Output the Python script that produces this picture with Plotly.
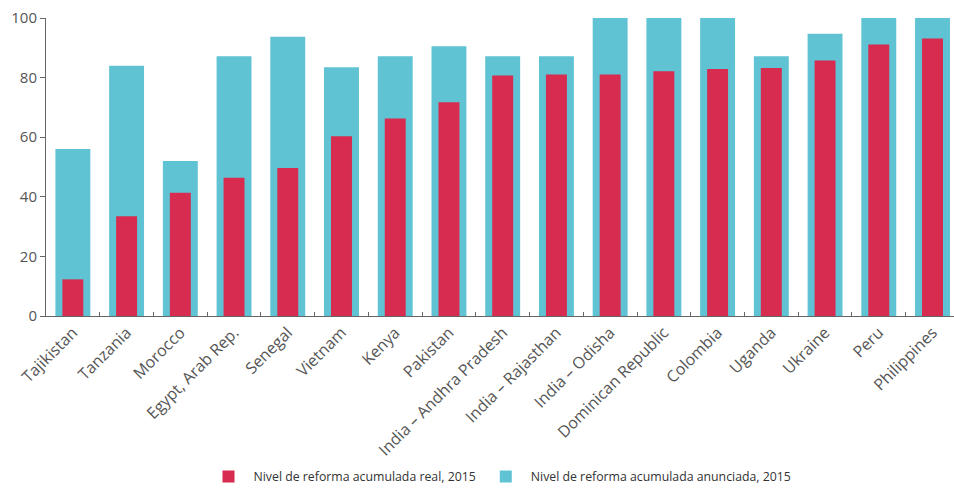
import plotly.graph_objects as go

categories = ["Tajikistan", "Tanzania", "Morocco", "Egypt, Arab Rep.", "Senegal", "Vietnam",
              "Kenya", "Pakistan", "India – Andhra Pradesh", "India – Rajasthan", "India – Odisha",
              "Dominican Republic", "Colombia", "Uganda", "Ukraine", "Peru", "Philippines"]
real_2015 = [12.3, 33.5, 41.4, 46.4, 49.7, 60.3, 66.3, 71.7, 80.7, 81.0, 81.0, 82.1, 82.9, 83.2, 85.7, 91.1, 93.1]
announced_2015 = [56, 84, 52, 87.2, 93.7, 83.5, 87.2, 90.5, 87.2, 87.2, 100, 100, 100, 87.2, 94.7, 100, 100]
y_ticks = [0, 20, 40, 60, 80, 100]

RED = "#D72B50"
BLUE = "#60C3D3"

fig = go.Figure()
fig.add_trace(go.Bar(x=categories, y=announced_2015, width=0.65, marker=dict(color=BLUE, line=dict(width=0)),
                     name="Nivel de reforma acumulada anunciada, 2015"))
fig.add_trace(go.Bar(x=categories, y=real_2015, width=0.39, marker=dict(color=RED, line=dict(width=0)),
                     name="Nivel de reforma acumulada real, 2015"))

fig.update_layout(
    width=954, height=491,
    barmode="overlay",
    paper_bgcolor="white", plot_bgcolor="white",
    margin=dict(l=46, r=0, t=18, b=174),
    font=dict(family="Open Sans, sans-serif", color="#555555"),
    showlegend=True,
    legend=dict(orientation="h", x=0.5, xanchor="center", y=-0.537, yanchor="middle",
                traceorder="reversed", font=dict(size=12.3, color="#333333"),
                itemwidth=40),
    xaxis=dict(range=[-0.5, 16.4], showline=True, linecolor="#666666", linewidth=1,
               ticks="inside", tickson="boundaries", ticklen=4, tickcolor="#666666",
               tickangle=-45, tickfont=dict(size=16, color="#555555"), showgrid=False,
               automargin=False),
    yaxis=dict(range=[0, 100], tickvals=y_ticks, showline=True, linecolor="#666666", linewidth=1,
               ticks="outside", ticklen=5, tickcolor="#666666", showgrid=False, zeroline=False,
               tickfont=dict(size=15, color="#555555"), automargin=False),
)

fig.write_html("out.html", config={"displayModeBar": False},
               post_script="document.body.style.margin='0';")
